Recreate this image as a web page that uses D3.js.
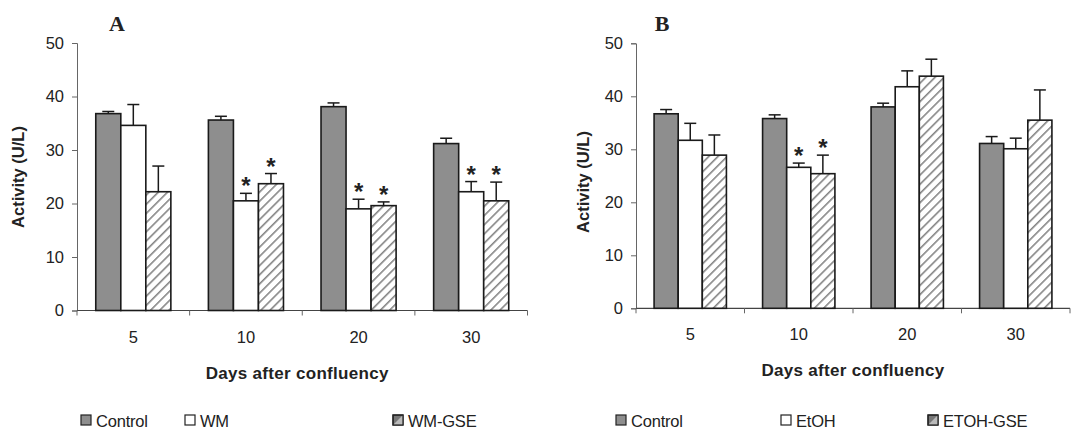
<!DOCTYPE html>
<html>
<head>
<meta charset="utf-8">
<script src="https://cdn.jsdelivr.net/npm/d3@7"></script>
<style>
html,body{margin:0;padding:0;background:#fff;}
svg{display:block;}
text{font-family:"Liberation Sans",Arial,sans-serif;fill:#222;}
</style>
</head>
<body>
<svg id="chart" width="1075" height="432"></svg>
<script>
// ---- data ----
const categories = ["5", "10", "20", "30"];
const yTicks = [0, 10, 20, 30, 40, 50];

const seriesA = ["Control", "WM", "WM-GSE"];
const controlA = [36.8, 35.6, 38.1, 31.2];
const controlAErr = [0.4, 0.7, 0.7, 1.0];
const wmA = [34.6, 20.5, 19.0, 22.2];
const wmAErr = [3.9, 1.4, 1.8, 1.9];
const wmGseA = [22.2, 23.7, 19.6, 20.5];
const wmGseAErr = [4.8, 1.9, 0.7, 3.5];
const wmAStar = [false, true, true, true];
const wmGseAStar = [false, true, true, true];

const seriesB = ["Control", "EtOH", "ETOH-GSE"];
const controlB = [36.7, 35.8, 38.0, 31.1];
const controlBErr = [0.8, 0.7, 0.7, 1.3];
const etohB = [31.7, 26.6, 41.8, 30.1];
const etohBErr = [3.2, 0.8, 3.0, 2.0];
const etohGseB = [28.9, 25.4, 43.8, 35.5];
const etohGseBErr = [3.8, 3.5, 3.2, 5.7];
const etohBStar = [false, true, false, false];
const etohGseBStar = [false, true, false, false];

const xTitle = "Days after confluency";
const yTitle = "Activity (U/L)";

// ---- drawing ----
const svg = d3.select("#chart");
const defs = svg.append("defs");
const pat = defs.append("pattern")
  .attr("id", "hatch").attr("patternUnits", "userSpaceOnUse")
  .attr("width", 6.5).attr("height", 6.5)
  .attr("patternTransform", "rotate(45)");
pat.append("rect").attr("width", 6.5).attr("height", 6.5).attr("fill", "#fff");
pat.append("line").attr("x1", 0).attr("y1", 0).attr("x2", 0).attr("y2", 6.5)
  .attr("stroke", "#858585").attr("stroke-width", 3.2);

const fills = ["#8e8e8e", "#ffffff", "url(#hatch)"];
const FS = "16.5px";

function panel(cfg) {
  const g = svg.append("g");
  const x0 = d3.scaleBand().domain(categories).range([cfg.left, cfg.right]).padding(0);
  const x1 = d3.scaleBand().domain(cfg.series).range([0, x0.bandwidth()])
    .paddingInner(0).paddingOuter(0.75);
  const y = d3.scaleLinear().domain([0, 50]).range([cfg.bottom, cfg.top]);

  // y axis
  const yAxis = d3.axisLeft(y).tickValues(yTicks).tickSize(5).tickPadding(8);
  const ya = g.append("g").attr("transform", `translate(${cfg.left},0)`).call(yAxis);
  ya.select(".domain").attr("stroke", "#666").attr("stroke-width", 1);
  ya.selectAll(".tick line").attr("stroke", "#666");
  ya.selectAll(".tick text").style("font-size", FS).attr("fill", "#222")
    .style("font-family", '"Liberation Sans",Arial,sans-serif');

  // x axis with ticks at band boundaries
  const xa = g.append("g").attr("transform", `translate(0,${cfg.bottom})`);
  xa.append("line").attr("x1", cfg.left).attr("x2", cfg.right)
    .attr("stroke", "#444").attr("stroke-width", 1.2);
  const bounds = categories.map(c => x0(c)).concat([cfg.right]);
  xa.selectAll("line.tk").data(bounds).enter().append("line").attr("class", "tk")
    .attr("x1", d => d).attr("x2", d => d).attr("y1", 0).attr("y2", 5)
    .attr("stroke", "#666");
  xa.selectAll("text").data(categories).enter().append("text")
    .attr("x", d => x0(d) + x0.bandwidth() / 2).attr("y", 32)
    .attr("text-anchor", "middle").style("font-size", FS).text(d => d);

  // titles
  g.append("text").attr("x", (cfg.left + cfg.right) / 2 - cfg.xTitleShift).attr("y", cfg.bottom + 68)
    .attr("text-anchor", "middle").style("font-size", "17px").style("font-weight", "bold")
    .style("letter-spacing", "0.3px").text(xTitle);
  g.append("text")
    .attr("transform", `translate(${cfg.yTitleX},${cfg.yTitleY}) rotate(-90)`)
    .attr("text-anchor", "middle").style("font-size", "16.5px").style("font-weight", "bold")
    .text(yTitle);
  g.append("text").attr("x", cfg.labelX).attr("y", 31).attr("text-anchor", "middle")
    .style("font-family", '"Liberation Serif","Times New Roman",serif')
    .style("font-size", "22px").style("font-weight", "bold").text(cfg.label);

  // bars
  cfg.series.forEach((s, si) => {
    const vals = cfg.values[si], errs = cfg.errors[si], stars = cfg.stars[si];
    const sg = g.append("g");
    categories.forEach((c, ci) => {
      const bx = x0(c) + x1(s), bw = x1.bandwidth();
      const cx = bx + bw / 2;
      const top = y(vals[ci]), capY = y(vals[ci] + errs[ci]);
      sg.append("line").attr("x1", cx).attr("x2", cx).attr("y1", top).attr("y2", capY)
        .attr("stroke", "#1a1a1a").attr("stroke-width", 1.5);
      sg.append("line").attr("x1", cx - 6).attr("x2", cx + 6).attr("y1", capY).attr("y2", capY)
        .attr("stroke", "#1a1a1a").attr("stroke-width", 1.5);
      sg.append("rect").attr("x", bx).attr("y", top).attr("width", bw)
        .attr("height", y(0) - top).attr("fill", fills[si])
        .attr("stroke", "#1a1a1a").attr("stroke-width", 1.6);
      if (stars[ci]) {
        sg.append("text").attr("x", cx).attr("y", capY + 1).attr("text-anchor", "middle")
          .style("font-size", "24px").style("font-weight", "bold").text("*");
      }
    });
  });

  // legend
  const lg = g.append("g");
  cfg.series.forEach((s, si) => {
    const lx = cfg.legendX[si];
    lg.append("rect").attr("x", lx).attr("y", 415).attr("width", 10).attr("height", 10)
      .attr("fill", si === 2 ? "#777" : fills[si]).attr("stroke", "#222").attr("stroke-width", 1.2);
    if (si === 2) {
      lg.append("path").attr("d", `M${lx},${425}L${lx + 10},${415}L${lx + 10},${425}Z`).attr("fill", "#bbb");
      lg.append("rect").attr("x", lx).attr("y", 415).attr("width", 10).attr("height", 10)
        .attr("fill", "none").attr("stroke", "#222").attr("stroke-width", 1.2);
    }
    lg.append("text").attr("x", lx + 15).attr("y", 427).style("font-size", "16.5px")
      .style("letter-spacing", "-0.2px").text(s);
  });
}

panel({
  left: 77, right: 527.5, top: 43, bottom: 310.5,
  series: seriesA, values: [controlA, wmA, wmGseA], errors: [controlAErr, wmAErr, wmGseAErr],
  stars: [[false, false, false, false], wmAStar, wmGseAStar],
  label: "A", labelX: 117, yTitleX: 24, yTitleY: 177, xTitleShift: 5,
  legendX: [81, 185, 393]
});
panel({
  left: 636, right: 1070, top: 43.3, bottom: 308.3,
  series: seriesB, values: [controlB, etohB, etohGseB], errors: [controlBErr, etohBErr, etohGseBErr],
  stars: [[false, false, false, false], etohBStar, etohGseBStar],
  label: "B", labelX: 662, yTitleX: 589, yTitleY: 182, xTitleShift: 0,
  legendX: [616, 781, 928]
});
</script>
</body>
</html>
